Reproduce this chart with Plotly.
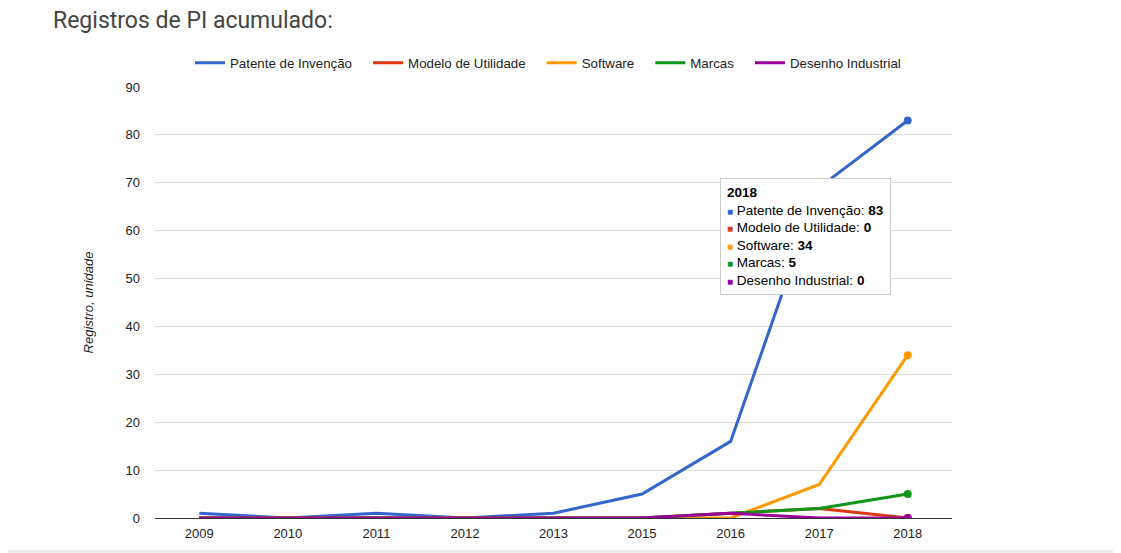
import plotly.graph_objects as go

# dados
anos = ['2009', '2010', '2011', '2012', '2013', '2015', '2016', '2017', '2018']

patente = [1, 0, 1, 0, 1, 5, 16, 69, 83]
modelo = [0, 0, 0, 0, 0, 0, 1, 2, 0]
software = [0, 0, 0, 0, 0, 0, 0, 7, 34]
marcas = [0, 0, 0, 0, 0, 0, 1, 2, 5]
desenho = [0, 0, 0, 0, 0, 0, 1, 0, 0]

nomes = ['Patente de Invenção', 'Modelo de Utilidade', 'Software', 'Marcas', 'Desenho Industrial']
cores = ['#3366cc', '#dc3912', '#ff9900', '#109618', '#990099']
series = [patente, modelo, software, marcas, desenho]

# a página tem margem de 8px no body, por isso a figura é 8px menor
W, H = 1113, 545
L, R, T, B = 147, 169, 79, 35
pw, ph = W - L - R, H - T - B

fig = go.Figure()

for nome, cor, valores in zip(nomes, cores, series):
    fig.add_trace(go.Scatter(
        x=anos,
        y=valores,
        name=nome + '\u00a0\u00a0\u00a0',
        mode='lines',
        line=dict(color=cor, width=3),
    ))

# pontos destacados em 2018
for nome, cor, valores in zip(nomes, cores, series):
    fig.add_trace(go.Scatter(
        x=anos[-1:],
        y=valores[-1:],
        mode='markers',
        marker=dict(color=cor, size=8),
        showlegend=False,
    ))

###################################################################################################

# caixa de "tooltip" do ponto 2018
linhas = ['<b>' + anos[-1] + '</b>']
for nome, cor, valores in zip(nomes, cores, series):
    linhas.append("<span style='color:%s;font-size:10px'>■</span> %s: <b>%d</b>" % (cor, nome, valores[-1]))

fig.add_annotation(
    x=(712 - L) / pw, y=(510 - 170) / ph,
    xref='paper', yref='paper',
    xanchor='left', yanchor='top',
    align='left',
    text='<br>'.join(linhas),
    showarrow=False,
    font=dict(family='Arial', size=13.5, color='#000000'),
    bgcolor='#ffffff',
    bordercolor='#cccccc',
    borderwidth=1,
    borderpad=6,
)

fig.update_layout(
    width=W,
    height=H,
    paper_bgcolor='white',
    plot_bgcolor='white',
    margin=dict(l=L, r=R, t=T, b=B),
    title=dict(
        text='Registros de PI acumulado:',
        x=45 / W, xanchor='left', xref='container',
        y=1 - 12 / H, yanchor='middle', yref='container',
        font=dict(family='Roboto', size=23, color='#444444'),
    ),
    legend=dict(
        orientation='h',
        x=0.5, xanchor='center',
        y=1 + 24 / ph, yanchor='middle',
        font=dict(family='Arial', size=13.3, color='#222222'),
    ),
    showlegend=True,
    font=dict(family='Arial', size=13, color='#222222'),
    xaxis=dict(
        type='category',
        range=[-0.5, len(anos) - 0.5],
        showgrid=False,
        showline=False,
        zeroline=False,
        ticks='',
        ticklabelstandoff=6,
    ),
    yaxis=dict(
        range=[0, 90],
        dtick=10,
        showgrid=True,
        gridcolor='#dddddd',
        zeroline=True,
        zerolinecolor='#333333',
        zerolinewidth=1,
        ticks='',
        ticklabelstandoff=14,
        title=dict(
            text='<i>Registro, unidade</i>',
            font=dict(family='Arial', size=13, color='#222222'),
            standoff=28,
        ),
    ),
)

# borda cinza no rodapé da página
fig.add_shape(type='rect', xref='paper', yref='paper',
              x0=-L / pw, x1=1 + R / pw, y0=-B / ph, y1=(-B + 3) / ph,
              fillcolor='#eeeeee', line=dict(width=0), layer='below')

fig.write_html('out.html')
